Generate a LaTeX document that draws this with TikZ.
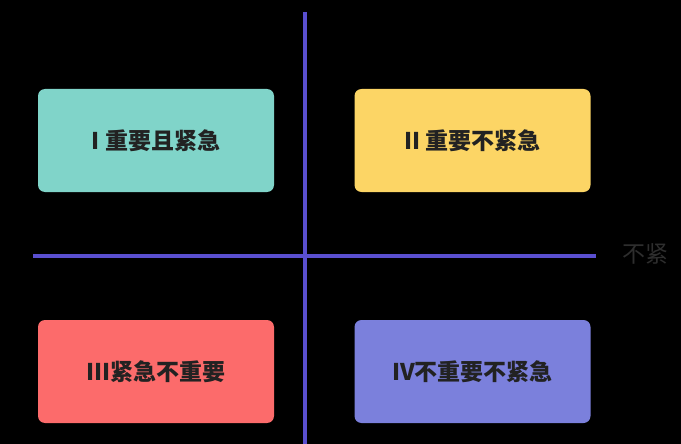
\documentclass[tikz,border=0pt]{standalone}
\usepackage{fontspec}
\newfontfamily\cjk{Noto Sans CJK SC}
\definecolor{axis}{HTML}{5A4FD0}
\definecolor{cI}{HTML}{80D4C9}
\definecolor{cII}{HTML}{FCD565}
\definecolor{cIII}{HTML}{FC6B6B}
\definecolor{cIV}{HTML}{7B80DC}
\definecolor{txt}{HTML}{222222}
\begin{document}
\begin{tikzpicture}[x=1pt,y=-1pt,
  quad/.style={rounded corners=7pt,minimum width=236pt,minimum height=103pt,inner sep=0pt,font=\cjk\fontsize{23}{26}\selectfont\bfseries,text=txt},
  ax/.style={axis,line width=3.5pt}]
\fill[black] (0,0) rectangle (681,444);
\clip (0,0) rectangle (681,444);
\coordinate (vt) at (305,12); \coordinate (vb) at (305,446);
\coordinate (hl) at (33,256); \coordinate (hr) at (596,256);
\draw[ax] (vt) -- (vb);
\draw[ax] (hl) -- (hr);
\node[quad,fill=cI] (q1) at (156,140.5) {I 重要且紧急};
\node[quad,fill=cII] (q2) at (472.5,140.5) {II 重要不紧急};
\node[quad,fill=cIII] (q3) at (156,371.5) {III紧急不重要};
\node[quad,fill=cIV] (q4) at (472.5,371.5) {IV不重要不紧急};
\node[anchor=west,text=black!82,font=\cjk\fontsize{23}{26}\selectfont,inner sep=0pt] (lbl) at (622,254) {不紧};
\end{tikzpicture}
\end{document}
